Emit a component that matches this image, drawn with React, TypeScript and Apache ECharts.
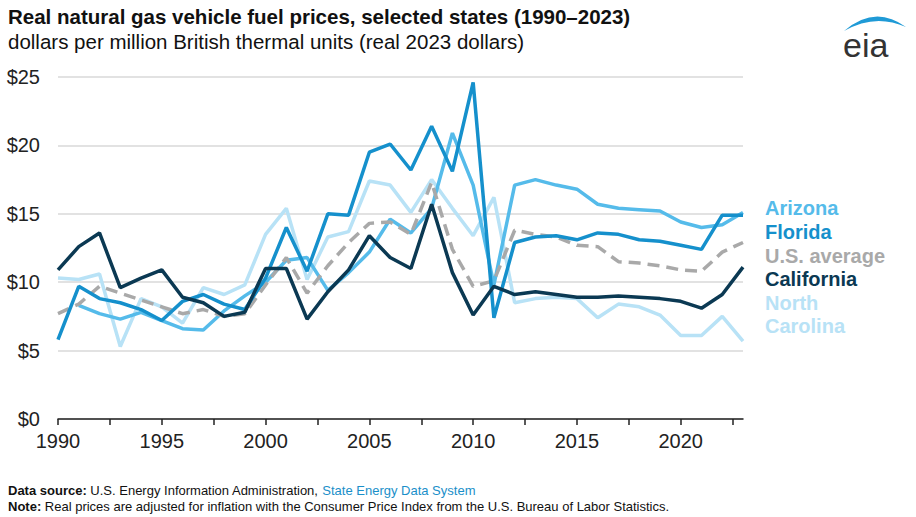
import React, { useEffect, useRef } from "react";
import * as echarts from "echarts";

const years = [1990, 1991, 1992, 1993, 1994, 1995, 1996, 1997, 1998, 1999, 2000, 2001, 2002, 2003, 2004, 2005, 2006, 2007, 2008, 2009, 2010, 2011, 2012, 2013, 2014, 2015, 2016, 2017, 2018, 2019, 2020, 2021, 2022, 2023];

const arizona = [null, 8.3, 7.7, 7.3, 7.8, 7.2, 6.6, 6.5, 7.9, 9.0, 10.0, 11.6, 11.8, 9.4, 10.7, 12.2, 14.6, 13.6, 15.4, 20.9, 17.1, 9.8, 17.1, 17.5, 17.1, 16.8, 15.7, 15.4, 15.3, 15.2, 14.4, 14.0, 14.2, 15.1];
const florida = [5.8, 9.7, 8.8, 8.5, 8.0, 7.2, 8.6, 9.1, 8.4, 8.0, 10.3, 14.0, 10.8, 15.0, 14.9, 19.5, 20.1, 18.2, 21.4, 18.1, 24.6, 7.4, 12.9, 13.3, 13.4, 13.1, 13.6, 13.5, 13.1, 13.0, 12.7, 12.4, 14.9, 14.9];
const usAverage = [7.7, 8.4, 9.7, 9.2, 8.7, 8.2, 7.7, 8.0, 7.5, 7.7, 9.8, 11.8, 9.2, 11.2, 12.9, 14.3, 14.4, 13.5, 17.3, 12.4, 9.7, 10.1, 13.8, 13.5, 13.3, 12.7, 12.6, 11.5, 11.4, 11.2, 10.9, 10.8, 12.2, 12.9];
const california = [10.9, 12.6, 13.6, 9.6, 10.3, 10.9, 8.9, 8.5, 7.5, 7.8, 11.0, 11.0, 7.3, 9.3, 10.9, 13.4, 11.8, 11.0, 15.7, 10.7, 7.6, 9.7, 9.1, 9.3, 9.1, 8.9, 8.9, 9.0, 8.9, 8.8, 8.6, 8.1, 9.1, 11.1];
const northCarolina = [10.3, 10.2, 10.6, 5.3, 8.8, 8.2, 7.0, 9.6, 9.1, 9.8, 13.5, 15.4, 10.2, 13.3, 13.7, 17.4, 17.1, 15.1, 17.5, 15.4, 13.4, 16.2, 8.5, 8.8, 8.9, 8.8, 7.4, 8.4, 8.2, 7.6, 6.1, 6.1, 7.5, 5.7];

const tickYears = [1990, 1992.5, 1995, 1997.5, 2000, 2002.5, 2005, 2007.5, 2010, 2012.5, 2015, 2017.5, 2020, 2022.5];
const labelYears = [1990, 1995, 2000, 2005, 2010, 2015, 2020];

const legendNames = ["Arizona", "Florida", "U.S. average", "California", "North", "Carolina"];

const C_AZ = "#55bbea";
const C_FL = "#1590cc";
const C_US = "#a9a9a9";
const C_CA = "#0b3953";
const C_NC = "#b8e2f6";
const legendColors = [C_AZ, C_FL, C_US, C_CA, C_NC, C_NC];

const FONT = "'Liberation Sans', Arial, sans-serif";

echarts.graphic.registerShape(
  "eiaSwoosh",
  echarts.graphic.extendPath("M0 15 Q31 -12 62 11 Q31 -3 0 15 Z", {})
);

function pairs(vals: (number | null)[]) {
  const out: [number, number][] = [];
  years.forEach((y, i) => {
    const v = vals[i];
    if (v !== null && v !== undefined) out.push([y, v]);
  });
  return out;
}

export default function App() {
  const ref = useRef<HTMLDivElement>(null);
  useEffect(() => {
    document.body.style.margin = "0";
    const chart = echarts.init(ref.current!, null, { renderer: "svg" });
    const lineSeries = (name: string, vals: (number | null)[], color: string, z: number, dashed = false) => ({
      name,
      type: "line",
      data: pairs(vals),
      showSymbol: false,
      symbol: "none",
      z,
      lineStyle: {
        color,
        width: 3.5,
        type: dashed ? [12, 7] : "solid",
      },
      itemStyle: { color },
    });
    const legendTexts = legendNames.map((n, i) => ({
      type: "text",
      left: 765,
      top: [198, 222, 246, 269, 293, 316][i],
      style: {
        text: n,
        fill: legendColors[i],
        font: `bold 20px ${FONT}`,
      },
    }));
    chart.setOption({
      animation: false,
      backgroundColor: "#ffffff",
      grid: { left: 58, right: 173, top: 77, bottom: 98 },
      xAxis: {
        type: "value",
        min: 1990,
        max: 2023,
        axisLine: { show: true, lineStyle: { color: "#222", width: 1.5 } },
        axisTick: {
          show: true,
          customValues: tickYears,
          length: 6,
          lineStyle: { color: "#222", width: 1.5 },
        },
        axisLabel: {
          customValues: labelYears,
          formatter: (v: number) => String(v),
          fontSize: 20,
          color: "#222",
          fontFamily: FONT,
          margin: 12,
        },
        splitLine: { show: false },
      },
      yAxis: {
        type: "value",
        min: 0,
        max: 25,
        interval: 5,
        axisLine: { show: false },
        axisTick: { show: false },
        axisLabel: {
          formatter: (v: number) => "$" + v,
          fontSize: 20,
          color: "#222",
          fontFamily: FONT,
          margin: 18,
        },
        splitLine: { lineStyle: { color: "#d9d9d9", width: 1.5 } },
      },
      series: [
        lineSeries("North Carolina", northCarolina, C_NC, 1),
        lineSeries("Arizona", arizona, C_AZ, 2),
        lineSeries("U.S. average", usAverage, C_US, 3, true),
        lineSeries("Florida", florida, C_FL, 4),
        lineSeries("California", california, C_CA, 5),
      ],
      graphic: [
        {
          type: "text",
          left: 8,
          top: 6,
          style: {
            text: "Real natural gas vehicle fuel prices, selected states (1990–2023)",
            fill: "#111",
            font: `bold 20.5px ${FONT}`,
          },
        },
        {
          type: "text",
          left: 8,
          top: 31,
          style: {
            text: "dollars per million British thermal units (real 2023 dollars)",
            fill: "#111",
            font: `20.5px ${FONT}`,
          },
        },
        ...legendTexts,
        {
          type: "text",
          left: 8,
          top: 484,
          style: {
            text: "{b|Data source:} U.S. Energy Information Administration, {l|State Energy Data System}",
            fill: "#111",
            font: `13px ${FONT}`,
            rich: {
              b: { fontWeight: "bold", fontSize: 13, fontFamily: FONT, fill: "#111" },
              l: { fontSize: 13, fontFamily: FONT, fill: "#1a8fc9" },
            },
          },
        },
        {
          type: "text",
          left: 8,
          top: 500,
          style: {
            text: "{b|Note:} Real prices are adjusted for inflation with the Consumer Price Index from the U.S. Bureau of Labor Statistics.",
            fill: "#111",
            font: `13px ${FONT}`,
            rich: {
              b: { fontWeight: "bold", fontSize: 13, fontFamily: FONT, fill: "#111" },
            },
          },
        },
        {
          type: "eiaSwoosh",
          x: 844,
          y: 16,
          style: { fill: "#1f9ad6" },
        },
        {
          type: "text",
          left: 843,
          top: 28,
          style: {
            text: "eia",
            fill: "#333",
            font: `34px ${FONT}`,
          },
        },
      ],
    });
    return () => chart.dispose();
  }, []);
  return <div ref={ref} style={{ width: 916, height: 517 }} />;
}
